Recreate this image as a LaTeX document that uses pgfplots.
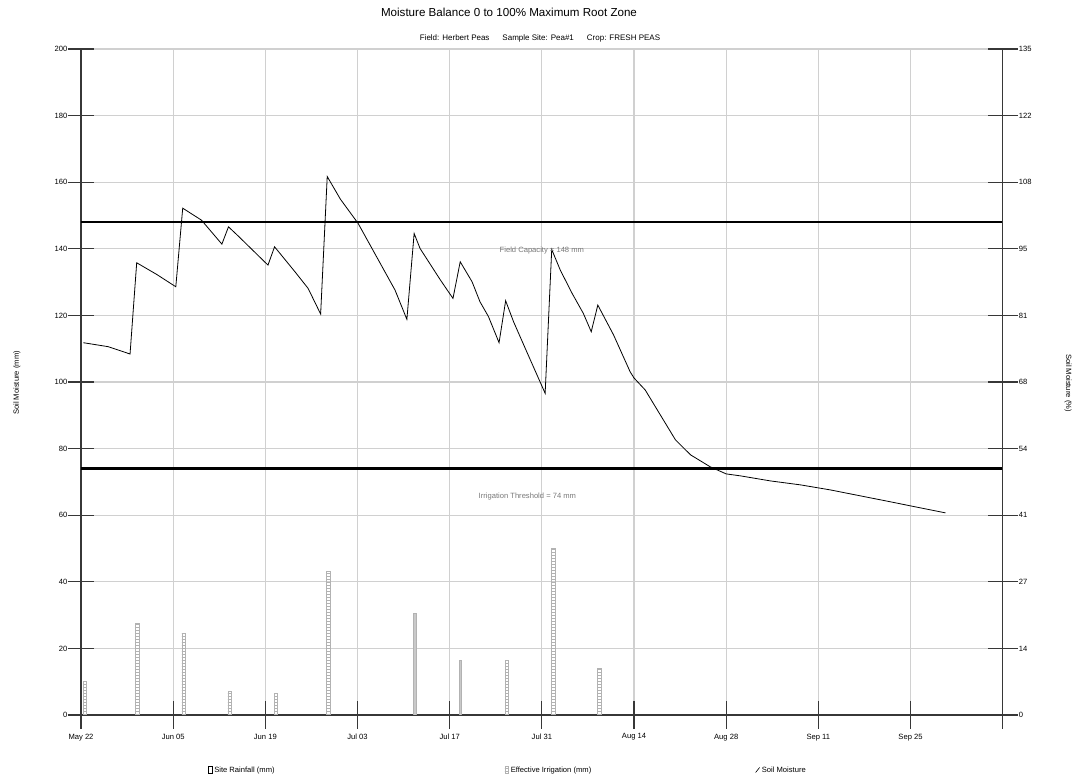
\documentclass[border=0pt]{standalone}
\usepackage{fontspec}
\setmainfont{Liberation Sans}
\usepackage{pgfplots}
\pgfplotsset{compat=1.18}
\usetikzlibrary{patterns}

\definecolor{gridgray}{RGB}{208,208,208}
\definecolor{axisgray}{RGB}{55,55,55}
\definecolor{bargray}{RGB}{178,178,178}
\definecolor{labelgray}{RGB}{120,120,120}

\newcommand{\smallfont}{\fontsize{7.6}{9}\selectfont}

\begin{document}
\begin{tikzpicture}
\useasboundingbox (0,0) rectangle (1078pt,781pt);

% main axis: soil moisture in mm (left) against days from May 22
\begin{axis}[
  at={(81pt,66pt)}, anchor=south west,
  scale only axis, width=921.7pt, height=666pt,
  xmin=0, xmax=140, ymin=0, ymax=200,
  axis x line*=bottom, axis y line*=left,
  axis line style={-, axisgray, line width=1.3pt},
  xtick={0,14,...,140},
  xticklabels={May 22,Jun 05,Jun 19,Jul 03,Jul 17,Jul 31,Aug 14,Aug 28,Sep 11,Sep 25,},
  ytick={0,20,...,200},
  tick align=center, major tick length=27pt,
  tick style={axisgray, line width=1.2pt},
  grid=major, grid style={gridgray, line width=1.2pt},
  ticklabel style={font=\smallfont},
  /pgf/number format/assume math mode=true,
  xticklabel style={anchor=north, inner sep=0pt, yshift=-5pt},
  yticklabel style={anchor=east, inner sep=0pt, xshift=0pt},
  legend columns=3,
  legend cell align=left,
  legend style={draw=none, fill=none, font=\smallfont,
    at={(rel axis cs:0.1345,-0.0826)}, anchor=west,
    /tikz/column 2/.style={column sep=228pt},
    /tikz/column 4/.style={column sep=162pt}},
]
% site rainfall (mm)
\addplot[ybar, bar width=0.35, bar shift=0pt, draw=bargray, fill=bargray!70,
  legend image code/.code={\draw[black, fill=white, line width=0.6pt] (0pt,-3pt) rectangle (3.5pt,4pt);}]
  coordinates {(50.7,30.5) (57.6,16.5)};
\addlegendentry{Site Rainfall (mm)}

% effective irrigation (mm)
\addplot[ybar, bar width=0.55, bar shift=0pt, draw=bargray, line width=0.7pt,
  pattern=horizontal lines, pattern color=bargray,
  legend image code/.code={\draw[bargray, line width=0.6pt, pattern=horizontal lines, pattern color=bargray] (0pt,-3pt) rectangle (3.5pt,4pt);}]
  coordinates {(0.6,10) (8.6,27.5) (15.6,24.6) (22.6,7) (29.6,6.5) (37.6,43)
               (64.7,16.5) (71.7,50) (78.7,14)};
\addlegendentry{Effective Irrigation (mm)}

% soil moisture (mm)
\addplot[black, line width=0.8pt,
  legend image code/.code={\draw[black, line width=0.6pt] (0pt,-2.5pt) -- (4pt,2.5pt);}]
  coordinates {
  (0.35,111.8) (4.15,110.6) (7.45,108.4) (8.46,135.8) (11.5,132.3) (14.4,128.6)
  (15.45,152.2) (18.3,148.6) (21.4,141.4) (22.4,146.6) (23.9,143.8) (28.4,135.1)
  (29.4,140.6) (32.5,133.1) (34.5,128.1) (36.4,120.4) (37.4,161.7) (39.4,154.9)
  (42.1,147.6) (44.9,137.6) (47.7,127.6) (49.5,118.8) (50.6,144.6) (51.5,140.1)
  (54.6,130.6) (56.5,125.1) (57.6,136.1) (59.4,130.1) (60.6,124.1) (61.9,119.6)
  (63.5,111.8) (64.5,124.4) (65.7,118.1) (67.7,109.1) (70.5,96.6) (71.5,139.8)
  (72.8,133.6) (74.6,126.6) (76.3,120.6) (77.5,115.1) (78.5,123.1) (80.9,114.1)
  (83.4,103.1) (84,101.2) (85.7,97.6) (88,90.1) (90.3,82.6) (92.6,78.1)
  (95.6,74.5) (98,72.4) (100.2,71.8) (104.7,70.3) (109.3,69.1) (113.8,67.6)
  (118.4,65.8) (123,64.0) (127.5,62.2) (131.3,60.7)};
\addlegendentry{Soil Moisture}

% field capacity and irrigation threshold
\addplot[black, line width=2.2pt, forget plot] coordinates {(0,148) (140,148)};
\addplot[black, line width=2.2pt, forget plot] coordinates {(0,74) (140,74)};

\node[labelgray, font=\smallfont] at (axis cs:70,139.6) {Field Capacity = 148 mm};
\node[labelgray, font=\smallfont] at (axis cs:67.8,65.5) {Irrigation Threshold = 74 mm};
\end{axis}

% secondary axis: soil moisture as percent of field capacity (right)
\begin{axis}[
  at={(81pt,66pt)}, anchor=south west,
  scale only axis, width=921.7pt, height=666pt,
  xmin=0, xmax=140, ymin=0, ymax=200,
  axis x line=none, axis y line*=right,
  axis line style={-, axisgray, line width=1.3pt},
  ytick={0,20,...,200},
  yticklabels={0,14,27,41,54,68,81,95,108,122,135},
  tick align=center, major tick length=30pt,
  tick style={axisgray, line width=1.2pt},
  ticklabel style={font=\smallfont},
  yticklabel style={anchor=west, inner sep=0pt, xshift=1pt},
]
\addplot[draw=none, forget plot] coordinates {(0,0) (140,200)};
\end{axis}

\node[font=\fontsize{11.6}{14}\selectfont] at (509pt,769pt) {Moisture Balance 0 to 100\% Maximum Root Zone};
\node[font=\fontsize{8}{10}\selectfont] at (540pt,743pt)
  {Field: Herbert Peas\hspace{13pt}Sample Site: Pea\#1\hspace{13pt}Crop: FRESH PEAS};
\node[font=\smallfont, rotate=90] at (17pt,398pt) {Soil Moisture (mm)};
\node[font=\smallfont, rotate=-90] at (1068pt,398pt) {Soil Moisture (\%)};
\end{tikzpicture}
\end{document}
